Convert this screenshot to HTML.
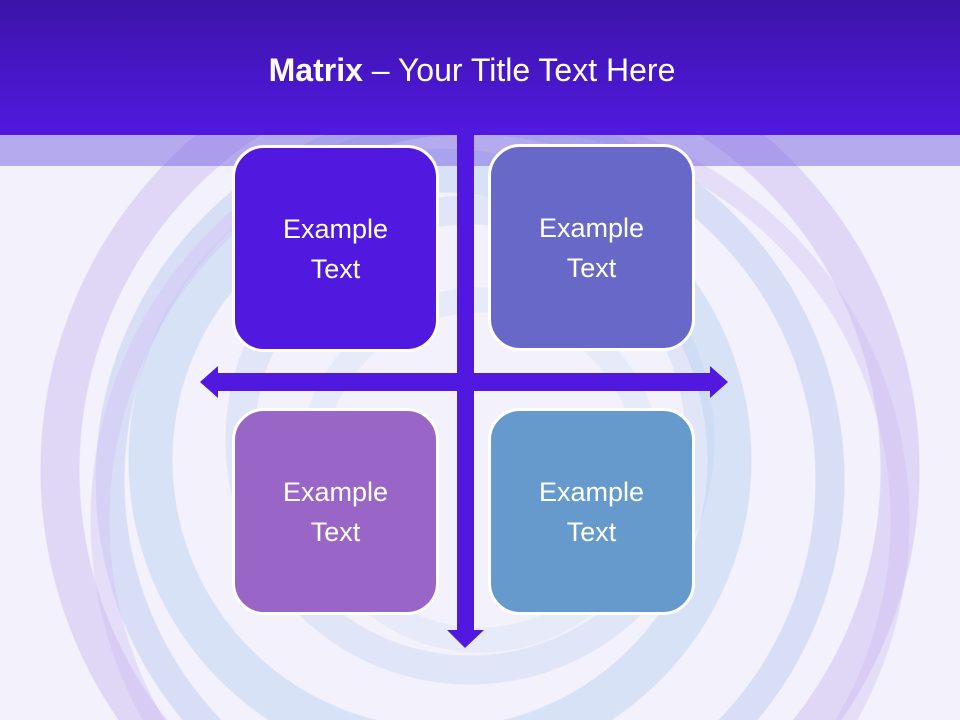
<!DOCTYPE html>
<html style="margin:0;width:960px;height:720px;overflow:hidden"><head><style>
body{margin:0;width:960px;height:720px;overflow:hidden;font-family:"Liberation Sans",sans-serif;position:relative;
background:
radial-gradient(circle at 480px 470px, transparent 400px, rgba(200,184,240,0.45) 401px, rgba(200,184,240,0.45) 439px, transparent 440px),
radial-gradient(circle at 500px 520px, transparent 390px, rgba(208,192,244,0.4) 391px, rgba(208,192,244,0.4) 409px, transparent 410px),
radial-gradient(circle at 470px 480px, transparent 345px, rgba(184,200,240,0.45) 346px, rgba(184,200,240,0.45) 374px, transparent 375px),
radial-gradient(circle at 440px 460px, transparent 267px, rgba(184,208,242,0.45) 268px, rgba(184,208,242,0.45) 311px, transparent 312px),
radial-gradient(circle at 470px 440px, transparent 215px, rgba(200,216,244,0.45) 216px, rgba(200,216,244,0.45) 244px, transparent 245px),
radial-gradient(circle at 480px 470px, transparent 157px, rgba(216,228,246,0.45) 158px, rgba(216,228,246,0.45) 182px, transparent 183px),
#f3f1fb}
.hdr{position:absolute;left:0;top:0;width:960px;height:135px;background:linear-gradient(#3c14a8,#5119e0)}
.band{position:absolute;left:0;top:135px;width:960px;height:31px;background:rgba(120,100,225,0.5)}
.t{position:absolute;left:0;width:944px;top:52px;text-align:center;color:#fff;font-size:32px}
.b{position:absolute;width:201px;height:201px;border:3px solid #fff;border-radius:32px;color:#fff;font-size:27px;display:flex;align-items:center;justify-content:center;text-align:center;line-height:40px;box-sizing:content-box}
</style></head><body>
<div class="band"></div>
<div class="hdr"></div>
<div class="t"><b>Matrix</b> – Your Title Text Here</div>
<svg style="position:absolute;left:0;top:0;display:block" width="960" height="720">
<g fill="#5119e0">
<rect x="457" y="135" width="17" height="495"/>
<polygon points="447,630 484,630 465,648"/>
<rect x="215" y="373" width="497" height="18"/>
<polygon points="218,366 218,398 200,382"/>
<polygon points="710,366 710,398 728,382"/>
</g>
</svg>
<div class="b" style="left:232px;top:145px;background:#5119e0">Example<br>Text</div>
<div class="b" style="left:488px;top:144px;background:#6868c8">Example<br>Text</div>
<div class="b" style="left:232px;top:408px;background:#9966c8">Example<br>Text</div>
<div class="b" style="left:488px;top:408px;background:#6699cc">Example<br>Text</div>
</body></html>
